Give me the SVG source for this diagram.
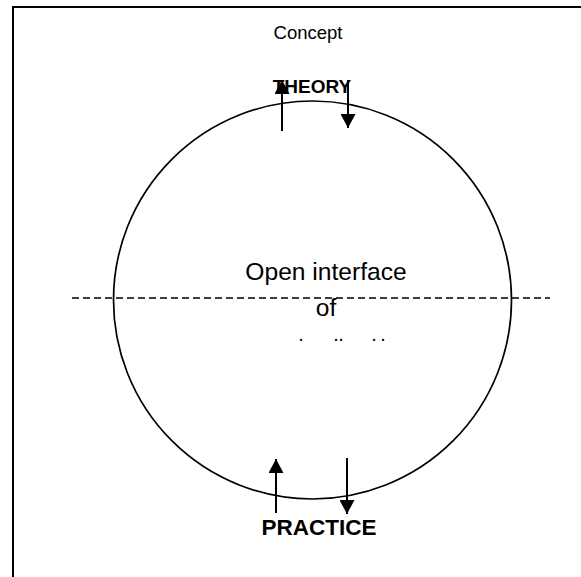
<svg xmlns="http://www.w3.org/2000/svg" width="581" height="577" viewBox="0 0 581 577">
<defs>
<style>
.t{font-family:"Liberation Sans",Arial,sans-serif;fill:#000;text-anchor:middle}
.b{font-weight:bold}
.ln{stroke:#000;stroke-width:2;fill:none}
</style>
<marker id="ah" viewBox="0 0 14 15" refX="14" refY="7.5" markerWidth="14" markerHeight="15" markerUnits="userSpaceOnUse" orient="auto">
<path d="M0,0 L14,7.5 L0,15 Z" fill="#000"/>
</marker>
</defs>
<rect width="581" height="577" fill="#fff"/>
<g id="frame"><path d="M13,577 L13,7 L581,7" class="ln"/></g>
<g id="circle"><circle cx="312.5" cy="300" r="199" fill="none" stroke="#000" stroke-width="1.7"/></g>
<g id="interface-line"><line x1="72" y1="298" x2="550" y2="298" stroke="#000" stroke-width="1.3" stroke-dasharray="7,4"/></g>
<g id="concept"><text class="t" x="308" y="39" font-size="18.5">Concept</text></g>
<g id="theory"><text class="t b" x="312" y="93" font-size="19">THEORY</text></g>
<g id="open-interface">
<text class="t" x="326" y="280" font-size="24.6">Open interface</text>
<text class="t" x="326" y="316" font-size="24.6">of</text>
<g class="t" font-size="20"><text x="301" y="341">.</text><text x="336" y="341">.</text><text x="341" y="341">.</text><text x="374" y="341">.</text><text x="383" y="341">.</text></g>
</g>
<g id="practice"><text class="t b" x="319" y="535" font-size="22.5">PRACTICE</text></g>
<g id="connectors">
<line x1="282" y1="131" x2="282" y2="80" class="ln" marker-end="url(#ah)"/>
<line x1="348" y1="80" x2="348" y2="128" class="ln" marker-end="url(#ah)"/>
<line x1="276" y1="513" x2="276" y2="459" class="ln" marker-end="url(#ah)"/>
<line x1="347" y1="458" x2="347" y2="514" class="ln" marker-end="url(#ah)"/>
</g>
</svg>
